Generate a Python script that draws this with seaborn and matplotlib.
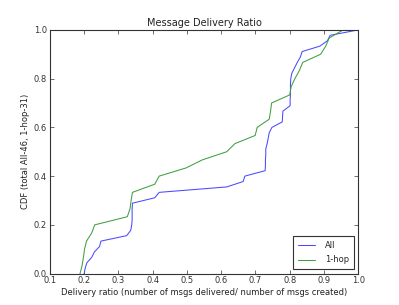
import numpy as np
import pandas as pd
import matplotlib
matplotlib.use("Agg")
import matplotlib.pyplot as plt
import seaborn as sns

# Sorted delivery ratios
all_ratio = [0.200, 0.203, 0.208, 0.222, 0.230, 0.245, 0.249, 0.324, 0.336, 0.339,
             0.340, 0.340, 0.340, 0.341, 0.406, 0.419, 0.616, 0.664, 0.669, 0.728,
             0.729, 0.729, 0.730, 0.730, 0.734, 0.737, 0.740, 0.748, 0.778, 0.779,
             0.780, 0.801, 0.801, 0.802, 0.802, 0.802, 0.803, 0.806, 0.814, 0.822,
             0.831, 0.836, 0.888, 0.910, 0.918, 1.000]
onehop_ratio = [0.188, 0.194, 0.198, 0.201, 0.207, 0.222, 0.231, 0.326, 0.334, 0.337,
                0.341, 0.406, 0.419, 0.497, 0.545, 0.616, 0.640, 0.699, 0.705, 0.740,
                0.744, 0.747, 0.800, 0.804, 0.815, 0.828, 0.838, 0.890, 0.905, 0.915,
                0.956]
series_names = ["All", "1-hop"]
xticks = [0.1, 0.2, 0.3, 0.4, 0.5, 0.6, 0.7, 0.8, 0.9, 1.0]
yticks = [0.0, 0.2, 0.4, 0.6, 0.8, 1.0]

frames = []
for name, vals in zip(series_names, [all_ratio, onehop_ratio]):
    v = np.sort(np.asarray(vals))
    cdf = np.arange(len(v)) / (len(v) - 1)
    frames.append(pd.DataFrame({"ratio": v, "cdf": cdf, "series": name}))
df = pd.concat(frames, ignore_index=True)

sns.set_style("ticks")
plt.rcParams["font.family"] = ["DejaVu Sans"]

fig = plt.figure(figsize=(3.99, 3.05), dpi=100)
ax = fig.add_axes([0.125, 0.103, 0.773, 0.799])

sns.lineplot(data=df, x="ratio", y="cdf", hue="series", hue_order=series_names,
             palette=["#4a4aff", "#3f9f3f"], estimator=None, sort=False,
             units="series", linewidth=0.75, ax=ax, legend=True)

ax.set_xlim(0.1, 1.0)
ax.set_ylim(0.0, 1.0)
ax.set_xticks(xticks)
ax.set_xticklabels([f"{t:.1f}" for t in xticks])
ax.set_yticks(yticks)
ax.set_yticklabels([f"{t:.1f}" for t in yticks])
ax.tick_params(direction="in", top=True, right=True, labelsize=6, length=3, width=0.5, pad=2, colors="#333333")
for s in ax.spines.values():
    s.set_linewidth(0.8)
    s.set_color("#333333")

ax.set_title("Message Delivery Ratio", fontsize=7, pad=3, color="#222222")
ax.set_xlabel("Delivery ratio (number of msgs delivered/ number of msgs created)", fontsize=6, labelpad=2, color="#222222")
ax.set_ylabel("CDF (total All-46, 1-hop-31)", fontsize=6, labelpad=3, color="#222222")

handles, labels = ax.get_legend_handles_labels()
leg = ax.legend(handles, labels, loc="lower right", fontsize=6, fancybox=False,
                frameon=True, edgecolor="#333333", framealpha=1, handlelength=2.0,
                borderpad=0.6, labelspacing=0.7, handletextpad=1.2, borderaxespad=0.5)
leg.get_frame().set_linewidth(0.8)

fig.savefig("out.png", dpi=100)
